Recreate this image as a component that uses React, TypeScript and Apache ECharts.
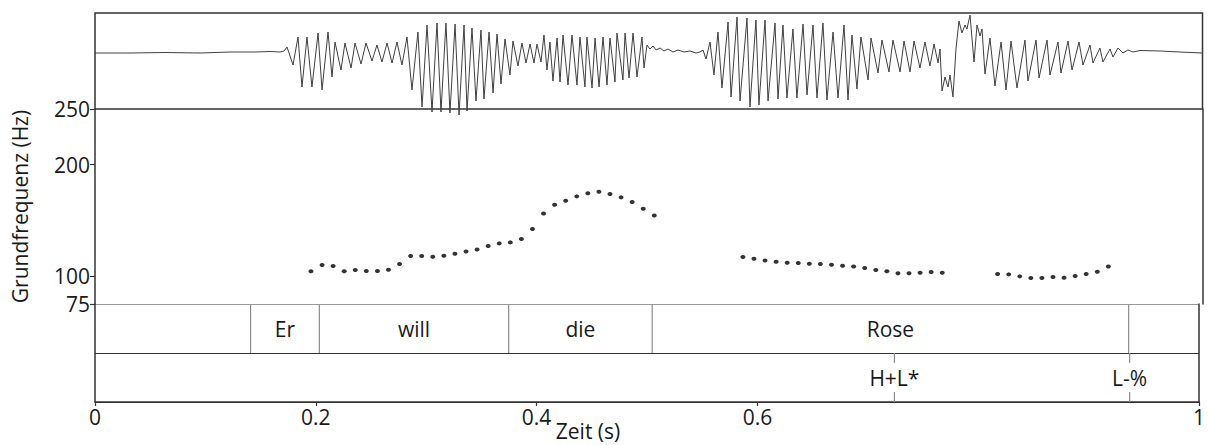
import React, { useEffect, useRef } from "react";
import * as echarts from "echarts";

// Oscillogram: [time (s), relative amplitude]
const waveform: [number, number][] = [
  [0.0, 0], [0.0316, 0], [0.0632, 0.5], [0.0948, 0], [0.1219, 1], [0.1445, 1], [0.158, 1.5], [0.167, 1],
  [0.1707, 2], [0.1734, 6], [0.1788, -12], [0.1833, 16], [0.1869, -34], [0.1914, 16], [0.1959, -34],
  [0.2014, 20], [0.205, -37], [0.2104, 21], [0.214, -24], [0.2167, 11], [0.2221, -17], [0.2257, 10],
  [0.2312, -15], [0.2348, 10], [0.2402, -11], [0.2447, 10], [0.2501, -8], [0.2546, 8], [0.2591, -9],
  [0.2637, 10], [0.2682, -10], [0.2727, 11], [0.2772, -12], [0.2817, 16], [0.2862, -37], [0.2916, 21],
  [0.2953, -54], [0.2998, 28], [0.3043, -59], [0.3088, 30], [0.3124, -59], [0.3169, 30], [0.3205, -60],
  [0.3251, 29], [0.3287, -62], [0.3332, 28], [0.3359, -58], [0.3404, 25], [0.344, -48], [0.3485, 23],
  [0.3512, -46], [0.3558, 21], [0.3594, -40], [0.363, 19], [0.3666, -31], [0.3702, 14], [0.3747, -22],
  [0.3774, 12], [0.3819, -13], [0.3855, 10], [0.3892, -10], [0.3928, 9], [0.3964, -10], [0.3991, 9],
  [0.4027, -9], [0.4054, 18], [0.4081, -17], [0.4108, 11], [0.4135, -28], [0.4172, 15], [0.4199, -29],
  [0.4226, 18], [0.4271, -32], [0.4307, 18], [0.4352, -32], [0.4379, 16], [0.4424, -34], [0.4442, 16],
  [0.4488, -35], [0.4515, 15], [0.4551, -34], [0.4587, 16], [0.4623, -32], [0.465, 15], [0.4695, -29],
  [0.4713, 20], [0.4767, -27], [0.4786, 20], [0.4822, -25], [0.4858, 20], [0.4894, -24], [0.4939, 16],
  [0.4957, -15], [0.4984, 8], [0.5011, 4], [0.5038, 7], [0.5066, 3], [0.5102, 5], [0.5138, 2],
  [0.5174, 4], [0.5219, 1], [0.5264, 3], [0.5318, 1], [0.5373, 2], [0.5427, 0], [0.5463, 1],
  [0.549, 3], [0.5517, -6], [0.5553, 11], [0.5589, -22], [0.5625, 21], [0.5661, -35], [0.5716, 31],
  [0.5743, -44], [0.5797, 36], [0.5824, -48], [0.5887, 35], [0.5914, -54], [0.5968, 33], [0.5995, -52],
  [0.605, 33], [0.6077, -48], [0.614, 30], [0.6167, -46], [0.6212, 28], [0.6248, -45], [0.6302, 24],
  [0.6338, -45], [0.6393, 29], [0.6429, -42], [0.6483, 28], [0.6519, -45], [0.6573, 30], [0.6609, -47],
  [0.6664, 21], [0.6709, -45], [0.6763, 28], [0.6799, -47], [0.6835, 18], [0.688, -36], [0.6916, 16],
  [0.698, -27], [0.7007, 15], [0.707, -20], [0.7106, 13], [0.7169, -19], [0.7205, 13], [0.7269, -19],
  [0.7305, 12], [0.7359, -19], [0.7395, 12], [0.7449, -15], [0.7494, 11], [0.7539, -13], [0.7576, 9],
  [0.7612, -10], [0.763, 4], [0.7648, -38], [0.7675, -24], [0.7702, -34], [0.772, -22], [0.7747, -44],
  [0.7774, 4], [0.7801, 32], [0.7828, 20], [0.7855, 28], [0.7873, 24], [0.7901, 38], [0.7937, -9],
  [0.7964, 28], [0.7991, 17], [0.8009, 24], [0.8036, -21], [0.8081, 15], [0.8126, -33], [0.8181, 11],
  [0.8226, -37], [0.8271, 12], [0.8325, -35], [0.8397, 13], [0.8424, -28], [0.8497, 13], [0.8524, -25],
  [0.8596, 13], [0.8623, -22], [0.8695, 11], [0.8722, -20], [0.8786, 12], [0.8822, -17], [0.8885, 11],
  [0.8921, -12], [0.8984, 8], [0.9011, -10], [0.9074, 5], [0.9101, -9], [0.9165, 4], [0.9192, -4],
  [0.9237, 5], [0.9282, 0], [0.9327, 3], [0.9372, 1], [0.9436, 2.5], [0.9616, 2], [0.9797, 1], [1.0, 0],
];

// F0 contour: [time (s), Hz]
const pitchDie: [number, number][] = [
  [0.195, 104.3], [0.205, 110.0], [0.215, 109.1], [0.225, 104.3], [0.235, 105.5], [0.245, 104.6],
  [0.255, 104.6], [0.265, 105.8], [0.275, 110.9], [0.285, 118.1], [0.295, 118.1], [0.305, 117.4],
  [0.315, 118.3], [0.325, 120.1], [0.335, 122.2], [0.345, 124.0], [0.355, 127.0], [0.365, 129.4],
  [0.375, 130.3], [0.385, 133.3], [0.395, 142.3], [0.405, 156.3], [0.415, 164.1], [0.425, 167.7],
  [0.435, 171.6], [0.445, 174.3], [0.455, 175.8], [0.465, 173.7], [0.475, 170.7], [0.485, 166.5],
  [0.495, 160.5], [0.505, 154.5],
];
const pitchRo: [number, number][] = [
  [0.585, 117.2], [0.595, 115.7], [0.605, 114.1], [0.615, 113.0], [0.625, 112.1], [0.635, 111.8],
  [0.645, 111.2], [0.655, 110.9], [0.665, 110.3], [0.675, 109.4], [0.685, 108.7], [0.695, 107.3],
  [0.705, 105.5], [0.715, 104.3], [0.725, 102.5], [0.735, 102.5], [0.745, 103.1], [0.755, 103.7],
  [0.765, 103.1],
];
const pitchSe: [number, number][] = [
  [0.815, 101.9], [0.825, 101.6], [0.835, 99.8], [0.845, 98.3], [0.855, 98.3], [0.865, 99.2],
  [0.875, 98.6], [0.885, 100.1], [0.895, 101.9], [0.905, 104.0], [0.915, 108.7],
];

// TextGrid
const wordBounds = [0, 0.1409, 0.2032, 0.3747, 0.5047, 0.9363, 1];
const wordLabels = ["", "Er", "will", "die", "Rose", ""];
const tonePoints = [0.7241, 0.9372];
const toneLabels = ["H+L*", "L-%"];

const xTicks = [0, 0.2, 0.4, 0.6, 1];
const yTicks = [75, 100, 200, 250];

const FONT = "Open Sans";
const FS = 21;
const TXT = "#1a1a1a";
const FRAME = "#333333";
const THIN = "#8c8c8c";

export default function App() {
  const ref = useRef<HTMLDivElement>(null);
  useEffect(() => {
    if (!ref.current) return;
    const chart = echarts.init(ref.current, null, { renderer: "svg" });
    const L = 95;
    const W = 1107.5;
    const option: any = {
      animation: false,
      backgroundColor: "#fff",
      grid: [
        { left: L, top: 13, width: W, height: 96, show: true, borderColor: FRAME, borderWidth: 1.5 },
        { left: L, top: 109, width: W, height: 195 },
        { left: L, top: 304, width: W, height: 98 },
      ],
      xAxis: [
        { gridIndex: 0, type: "value", min: 0, max: 1, show: false },
        { gridIndex: 1, type: "value", min: 0, max: 1, show: false },
        {
          gridIndex: 2, type: "value", min: 0, max: 1,
          axisLine: { show: true, onZero: false, lineStyle: { color: FRAME, width: 1.5 } },
          axisTick: { show: true, customValues: xTicks, length: 4, lineStyle: { color: FRAME, width: 1.2 } },
          axisLabel: {
            show: true, customValues: xTicks, margin: 4,
            fontFamily: FONT, fontSize: FS, color: TXT,
            formatter: (v: number) => String(v),
          },
          splitLine: { show: false },
        },
      ],
      yAxis: [
        { gridIndex: 0, type: "value", min: -56, max: 40, show: false },
        {
          gridIndex: 1, type: "value", min: 75, max: 250, position: "left",
          axisLine: { show: true, lineStyle: { color: FRAME, width: 1.5 } },
          axisTick: { show: true, customValues: yTicks, length: 5, lineStyle: { color: FRAME, width: 1.2 } },
          axisLabel: { show: true, customValues: yTicks, margin: 5, fontFamily: FONT, fontSize: FS, color: TXT },
          splitLine: { show: false },
          name: "Grundfrequenz (Hz)",
          nameLocation: "middle",
          nameGap: 65,
          nameRotate: 90,
          nameTextStyle: { fontFamily: FONT, fontSize: FS, color: TXT },
        },
        {
          gridIndex: 1, type: "value", min: 75, max: 250, position: "right",
          axisLine: { show: true, lineStyle: { color: FRAME, width: 1.5 } },
          axisTick: { show: false }, axisLabel: { show: false }, splitLine: { show: false },
        },
        {
          gridIndex: 2, type: "value", min: 0, max: 2, interval: 1, position: "left",
          axisLine: { show: true, lineStyle: { color: FRAME, width: 1.5 } },
          axisTick: { show: false }, axisLabel: { show: false },
          splitLine: { show: true, lineStyle: { color: [FRAME, FRAME, "#9a9a9a"], width: 1.2 } },
        },
        {
          gridIndex: 2, type: "value", min: 0, max: 2, position: "right",
          axisLine: { show: true, lineStyle: { color: FRAME, width: 1.5 } },
          axisTick: { show: false }, axisLabel: { show: false }, splitLine: { show: false },
        },
      ],
      series: [
        {
          type: "line", xAxisIndex: 0, yAxisIndex: 0, data: waveform,
          showSymbol: false, clip: false,
          lineStyle: { color: "#404040", width: 1 },
        },
        ...[pitchDie, pitchRo, pitchSe].map((d) => ({
          type: "scatter", xAxisIndex: 1, yAxisIndex: 1, data: d,
          symbol: "circle", symbolSize: [5, 4], itemStyle: { color: "#000" },
        })),
        {
          type: "custom", xAxisIndex: 2, yAxisIndex: 3,
          data: wordLabels.map((_, i) => [wordBounds[i], wordBounds[i + 1]]),
          encode: { x: [0, 1] },
          renderItem: (params: any, api: any) => {
            const i = params.dataIndex;
            const s = wordBounds[i];
            const e = wordBounds[i + 1];
            const top = api.coord([s, 2]);
            const bot = api.coord([s, 1]);
            const mid = api.coord([(s + e) / 2, 1.5]);
            const children: any[] = [];
            if (s > 0) {
              children.push({
                type: "line",
                shape: { x1: top[0], y1: top[1], x2: bot[0], y2: bot[1] },
                style: { stroke: THIN, lineWidth: 1.2 },
              });
            }
            if (wordLabels[i]) {
              children.push({
                type: "text",
                style: {
                  text: wordLabels[i], x: mid[0], y: mid[1], align: "center", verticalAlign: "middle",
                  fontFamily: FONT, fontSize: FS, fill: TXT,
                },
              });
            }
            return { type: "group", children };
          },
        },
        {
          type: "custom", xAxisIndex: 2, yAxisIndex: 3,
          data: tonePoints.map((t) => [t, 0.5]),
          encode: { x: 0, y: 1 },
          renderItem: (params: any, api: any) => {
            const i = params.dataIndex;
            const t = tonePoints[i];
            const top = api.coord([t, 1]);
            const bot = api.coord([t, 0]);
            const mid = api.coord([t, 0.5]);
            return {
              type: "group",
              children: [
                { type: "line", shape: { x1: top[0], y1: top[1], x2: top[0], y2: top[1] + 10 }, style: { stroke: THIN, lineWidth: 1.2 } },
                { type: "line", shape: { x1: bot[0], y1: bot[1] - 10, x2: bot[0], y2: bot[1] }, style: { stroke: THIN, lineWidth: 1.2 } },
                {
                  type: "text",
                  style: {
                    text: toneLabels[i], x: mid[0], y: mid[1], align: "center", verticalAlign: "middle",
                    fontFamily: FONT, fontSize: FS, fill: TXT,
                  },
                },
              ],
            };
          },
        },
      ],
      graphic: [
        {
          type: "text", x: 588, y: 431,
          style: { text: "Zeit (s)", align: "center", verticalAlign: "middle", fontFamily: FONT, fontSize: FS, fill: TXT },
        },
      ],
    };
    chart.setOption(option);
    return () => chart.dispose();
  }, []);
  return (
    <div
      ref={ref}
      style={{ position: "fixed", left: 0, top: 0, width: 1208, height: 445, background: "#fff" }}
    />
  );
}
